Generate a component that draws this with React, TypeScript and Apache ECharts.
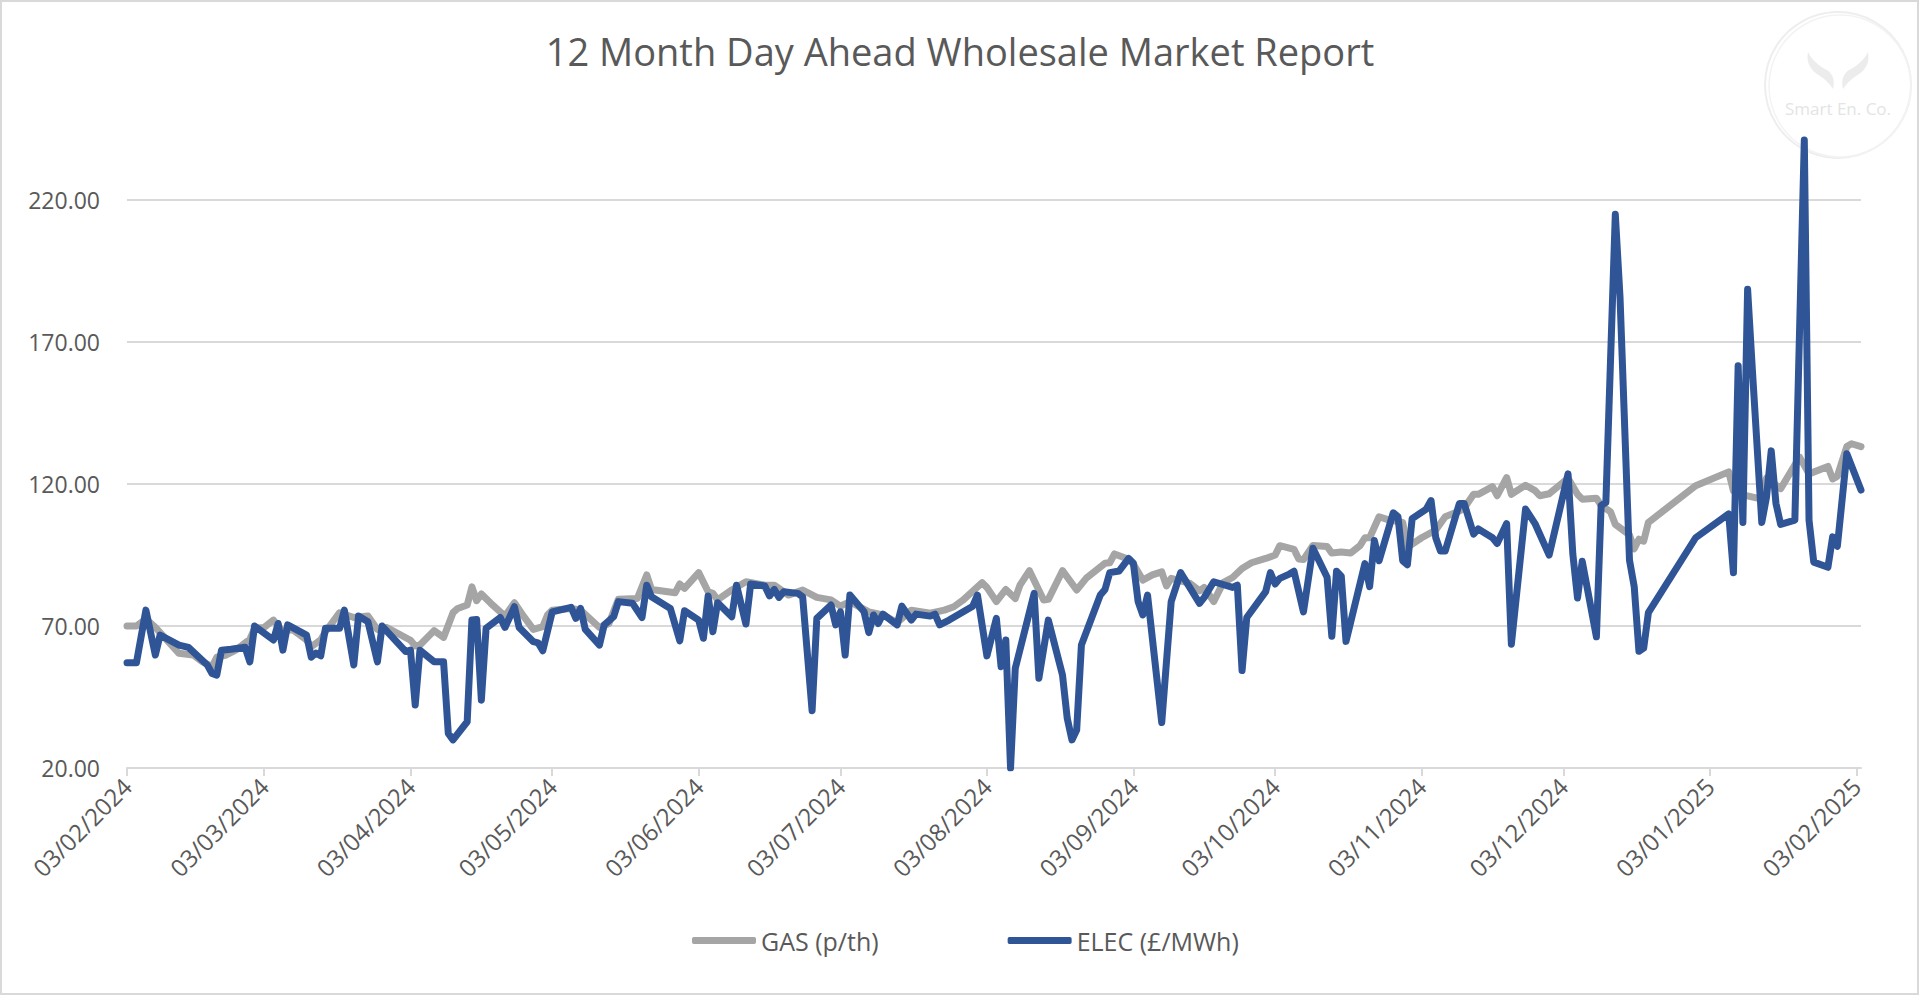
import React, { useEffect, useRef } from "react";
import * as echarts from "echarts";

// ---- axis categories: every day from 03/02/2024 to 04/02/2025 ----
const START_UTC = Date.UTC(2024, 1, 3);
const DAY_COUNT = 368;
const categories: string[] = [];
for (let i = 0; i < DAY_COUNT; i++) {
  const dt = new Date(START_UTC + i * 86400000);
  const dd = String(dt.getUTCDate()).padStart(2, "0");
  const mm = String(dt.getUTCMonth() + 1).padStart(2, "0");
  categories.push(`${dd}/${mm}/${dt.getUTCFullYear()}`);
}

const Y_MIN = 20;
const Y_MAX = 250;
const Y_STEP = 50;

const TITLE = "12 Month Day Ahead Wholesale Market Report";
const GAS_NAME = "GAS (p/th)";
const ELEC_NAME = "ELEC (£/MWh)";

// [day index since 03/02/2024, value]
const GAS: [number, number][] = [
  [0, 70], [2, 70], [4, 72.5], [6, 69.5], [11, 60.4], [14, 59.8], [16, 57.4], [18, 55.7],
  [19, 59], [21, 59.8], [23, 61.5], [26, 65.3], [27, 69.2], [29, 69.5], [31, 72.1], [33, 68],
  [35, 68.8], [38, 65.1], [39, 62.7], [41, 65.1], [42, 68], [45, 74.7], [48, 73], [51, 73.5],
  [53, 68.8], [55, 69.5], [60, 65], [61, 63], [62, 63.3], [65, 68.4], [67, 66], [69, 74.7],
  [70, 76.2], [72, 77.4], [73, 83.8], [74, 78.9], [75, 81.3], [77, 78], [80, 73.5], [82, 78.2],
  [84, 73.3], [86, 68.8], [88, 69.8], [89, 73.9], [90, 75.6], [94, 76.2], [96, 75.6], [100, 69.5],
  [102, 70.9], [104, 79.4], [108, 79.7], [110, 88], [111, 82.9], [116, 81.7], [117, 84.8], [118, 83.3],
  [121, 88.8], [123, 82.1], [124, 81.5], [125, 79.2], [128, 82.7], [131, 85.6], [135, 84.4], [137, 84.4],
  [140, 80.9], [143, 82.7], [146, 80.1], [149, 79.2], [151, 77], [153, 78.6], [157, 75], [160, 73.9],
  [163, 71.2], [166, 75.6], [170, 74.5], [173, 75.6], [175, 76.8], [177, 79.2], [181, 85.3], [182, 83.6],
  [184, 78.6], [186, 82.9], [188, 79.7], [189, 84.4], [191, 89.5], [194, 79.2], [195, 79.4], [198, 89.5],
  [201, 82.7], [203, 86.8], [207, 92.1], [208, 92.3], [209, 95.4], [212, 93.5], [213, 91.8], [215, 86.2],
  [217, 88], [219, 89.1], [220, 84.1], [221, 86.8], [225, 85], [227, 82.4], [228, 83.6], [230, 78.6],
  [232, 85.3], [234, 87.1], [236, 90.3], [238, 92.3], [241, 93.8], [243, 95], [244, 98.3], [247, 97],
  [248, 93.6], [249, 93.4], [251, 98.4], [254, 98], [255, 95.7], [257, 96.1], [259, 95.7], [261, 98.4],
  [262, 101.1], [263, 101.1], [265, 108.5], [267, 107.4], [270, 106.5], [271, 97.7], [274, 101.1], [277, 103.8],
  [279, 108.5], [282, 110.5], [283, 111.5], [285, 116.4], [286, 116.4], [289, 119.1], [290, 115.9], [292, 122.3],
  [293, 116.4], [296, 119.6], [298, 117.7], [299, 115.9], [301, 116.6], [304, 120.7], [305, 122], [307, 116.4],
  [308, 114.7], [311, 115], [312, 112.5], [314, 110.2], [315, 105.8], [318, 102.1], [319, 97.2], [320, 100.6],
  [321, 99.9], [322, 106.5], [332, 119.4], [339, 124.3], [340, 117.6], [342, 116.2], [346, 114.7], [347, 122.1],
  [350, 118.4], [354, 129.5], [356, 123.6], [360, 126.2], [361, 121.8], [362, 122.8], [364, 133.2], [365, 134.2],
  [367, 133.2],
];

const ELEC: [number, number][] = [
  [0, 57.1], [2, 57.1], [4, 75.6], [6, 59.8], [7, 66.8], [11, 63.3], [13, 62.5], [17, 56.3],
  [18, 53.3], [19, 52.7], [20, 61.5], [22, 61.8], [25, 62.5], [26, 57.4], [27, 70], [31, 65.1],
  [32, 70.9], [33, 61.5], [34, 70.4], [38, 66.8], [39, 59], [40, 60.5], [41, 59.5], [42, 69.2],
  [45, 69.2], [46, 75.6], [48, 56.3], [49, 73.5], [51, 71.5], [53, 57.4], [54, 70], [59, 61],
  [60, 61.5], [61, 42.2], [62, 61.5], [65, 57.4], [67, 57.4], [68, 32.2], [69, 29.9], [72, 36.3],
  [73, 72.1], [74, 72.3], [75, 43.9], [76, 69.2], [79, 73], [80, 69.5], [82, 76.8], [83, 69.5],
  [86, 64.5], [87, 64.1], [88, 61.3], [90, 75], [94, 76.6], [95, 72.7], [96, 76.2], [97, 68.8],
  [100, 63.3], [101, 70.4], [103, 73.3], [104, 78.6], [107, 78], [109, 73], [110, 84.4], [111, 80.3],
  [115, 76.2], [117, 64.8], [118, 75.4], [121, 72.1], [122, 65.7], [123, 80.6], [124, 68], [125, 78.2],
  [128, 73.3], [129, 84.4], [131, 70.7], [132, 84.8], [135, 84.1], [136, 80.6], [137, 82.9], [138, 80.1],
  [139, 82.1], [142, 81.5], [143, 80.3], [145, 40.2], [146, 72.7], [149, 77.4], [150, 70.4], [151, 75],
  [152, 59.8], [153, 80.9], [156, 75], [157, 67.7], [158, 73.9], [159, 70.9], [160, 74.2], [163, 70.4],
  [164, 77], [166, 72.1], [167, 74.2], [170, 73.5], [171, 74.2], [172, 70.4], [174, 72.1], [179, 77],
  [180, 80.9], [182, 59.5], [184, 72.7], [185, 55.7], [186, 65.1], [187, 20], [188, 55.1], [192, 81.5],
  [193, 51.6], [195, 72.1], [198, 52.7], [199, 37.5], [200, 29.9], [201, 33.4], [202, 63.3], [206, 80.9],
  [207, 82.9], [208, 88.8], [210, 89.4], [212, 93.8], [213, 92.1], [214, 78.6], [215, 73.9], [216, 80.9],
  [219, 36], [221, 78.6], [223, 88.8], [227, 78], [228, 80.1], [230, 85.6], [234, 83.6], [235, 84.4],
  [236, 54.3], [237, 73], [241, 82.1], [242, 88.8], [243, 84.8], [244, 86.8], [246, 88.3], [247, 89.3],
  [249, 75], [251, 97.4], [254, 87.2], [255, 66.4], [256, 89.3], [257, 87.6], [258, 64.6], [262, 92],
  [263, 83.9], [264, 100.1], [265, 93], [268, 109.9], [269, 108.5], [270, 93], [271, 91.6], [272, 107.8],
  [275, 111.2], [276, 114.2], [277, 101.1], [278, 96.4], [279, 96.4], [282, 113.2], [283, 113.2], [285, 102.4],
  [286, 104.2], [289, 101.1], [290, 99.1], [292, 106.1], [293, 63.6], [296, 111.2], [298, 106.1], [301, 95],
  [305, 123.6], [306, 95.5], [307, 79.9], [308, 92.8], [311, 66.2], [312, 112.5], [313, 113.5], [315, 215],
  [316, 185.7], [318, 93.2], [319, 83.9], [320, 61.1], [321, 62.2], [322, 74.7], [332, 101.1], [339, 109.5],
  [340, 88.8], [341, 161.7], [342, 106.5], [343, 188.6], [344, 160.5], [346, 106.5], [347, 115.4], [348, 131.7],
  [349, 113.2], [350, 105.8], [353, 107.3], [355, 241.2], [356, 107.3], [357, 92.5], [360, 90.7], [361, 101.4],
  [362, 98.1], [364, 130.7], [367, 117.9],
];

const GAS_COLOR = "#a5a5a5";
const ELEC_COLOR = "#2f5597";
const TEXT_COLOR = "#595959";
const GRID_COLOR = "#d9d9d9";
const FONT = "'Open Sans', 'Noto Sans', sans-serif";

const LEAF_D =
  "M2,0 C0,10 4,18 14,24 C20,28 24,32 27,37 C29,28 27,22 21,18 C13,14 6,8 2,0 Z " +
  "M62,0 C64,10 60,18 50,24 C44,28 40,32 37,37 C35,28 37,22 43,18 C51,14 58,8 62,0 Z";

let registered = false;
function ensureShapes() {
  if (registered) return;
  echarts.graphic.registerShape("logoLeaves", echarts.graphic.extendPath(LEAF_D, {}) as any);
  registered = true;
}

const isMonthTick = (_i: number, v: string) => v.startsWith("03/");

export default function App() {
  const ref = useRef<HTMLDivElement>(null);
  useEffect(() => {
    if (!ref.current) return;
    ensureShapes();
    const chart = echarts.init(ref.current, undefined, { renderer: "svg" });
    chart.setOption({
      animation: false,
      backgroundColor: "#ffffff",
      textStyle: { fontFamily: FONT },
      title: {
        text: TITLE,
        left: "center",
        top: 27,
        textStyle: { fontFamily: FONT, fontSize: 38, fontWeight: "normal", color: TEXT_COLOR },
      },
      legend: {
        data: [GAS_NAME, ELEC_NAME],
        left: 687,
        top: 923,
        icon: "roundRect",
        itemWidth: 64,
        itemHeight: 7,
        itemGap: 129,
        textStyle: { fontFamily: FONT, fontSize: 25, color: TEXT_COLOR },
      },
      grid: { left: 127, right: 59, top: 115, bottom: 228, containLabel: false },
      xAxis: {
        type: "category",
        data: categories,
        boundaryGap: false,
        axisLine: { show: true, lineStyle: { color: GRID_COLOR, width: 2 } },
        axisTick: { show: true, interval: isMonthTick, length: 8, lineStyle: { color: GRID_COLOR, width: 2 } },
        axisLabel: {
          interval: isMonthTick,
          rotate: 45,
          margin: 14,
          fontFamily: FONT,
          fontSize: 24,
          color: TEXT_COLOR,
        },
        splitLine: { show: false },
      },
      yAxis: {
        type: "value",
        min: Y_MIN,
        max: Y_MAX,
        interval: Y_STEP,
        axisLine: { show: false },
        axisTick: { show: false },
        axisLabel: {
          margin: 27,
          fontFamily: FONT,
          fontSize: 23,
          color: TEXT_COLOR,
          showMaxLabel: false,
          formatter: (v: number) => ((v - Y_MIN) % Y_STEP === 0 ? v.toFixed(2) : ""),
        },
        splitLine: { show: true, showMaxLine: false, lineStyle: { color: GRID_COLOR, width: 2 } },
      },
      series: [
        {
          name: GAS_NAME,
          type: "line",
          data: GAS,
          showSymbol: false,
          symbol: "none",
          itemStyle: { color: GAS_COLOR },
          lineStyle: { color: GAS_COLOR, width: 7, cap: "round", join: "round" },
          z: 2,
        },
        {
          name: ELEC_NAME,
          type: "line",
          data: ELEC,
          showSymbol: false,
          symbol: "none",
          itemStyle: { color: ELEC_COLOR },
          lineStyle: { color: ELEC_COLOR, width: 7, cap: "round", join: "round" },
          z: 3,
        },
      ],
      graphic: [
        {
          type: "rect",
          shape: { x: 1, y: 1, width: 1917, height: 993 },
          style: { fill: "none", stroke: GRID_COLOR, lineWidth: 2 },
          silent: true,
          z: 100,
        },
        {
          type: "circle",
          shape: { cx: 1838, cy: 85, r: 73 },
          style: { fill: "none", stroke: "#eeeeee", lineWidth: 2 },
          silent: true,
        },
        {
          type: "circle",
          shape: { cx: 1840, cy: 86, r: 71 },
          style: { fill: "none", stroke: "#f3f3f3", lineWidth: 1.5 },
          silent: true,
        },
        {
          type: "logoLeaves",
          x: 1806,
          y: 52,
          style: { fill: "#ececec" },
          silent: true,
        },
        {
          type: "text",
          x: 1838,
          y: 108,
          style: {
            text: "Smart En. Co.",
            fontFamily: FONT,
            fontSize: 17,
            fill: "#e4e4e4",
            align: "center",
            verticalAlign: "middle",
          },
          silent: true,
        },
      ],
    });
    return () => chart.dispose();
  }, []);
  return (
    <div
      ref={ref}
      style={{ position: "absolute", left: 0, top: 0, width: 1920, height: 996 }}
    />
  );
}
